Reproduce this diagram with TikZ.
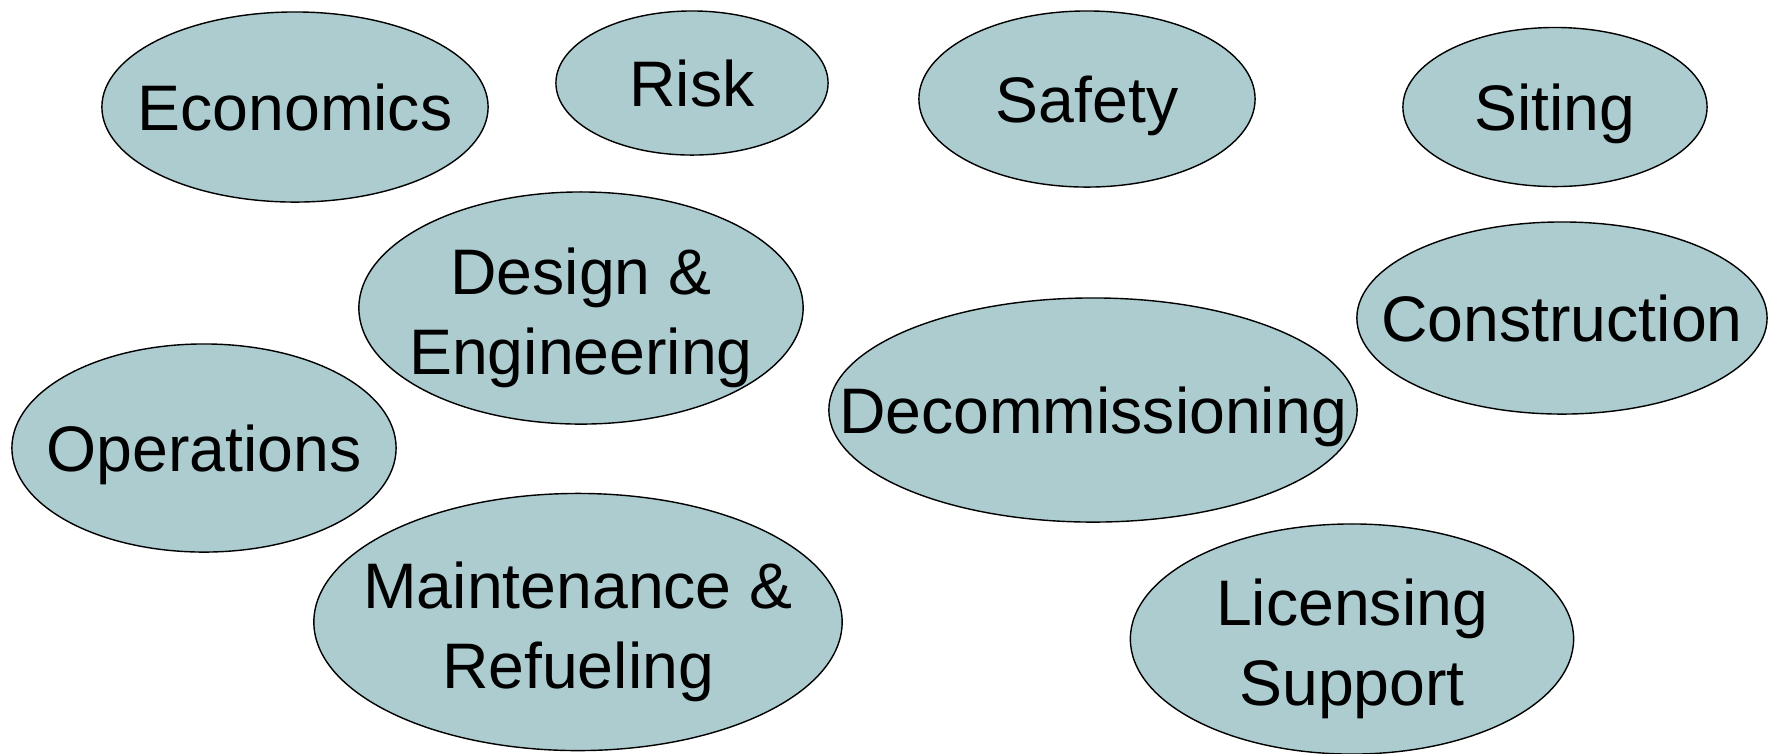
\documentclass[tikz,border=0pt]{standalone}
\usepackage{fontspec}
\setmainfont{Liberation Sans}
\usepackage{xcolor}
\definecolor{topicfill}{RGB}{173,204,207}
\usepackage{tikz}
\usetikzlibrary{shapes.geometric}

\begin{document}
\begin{tikzpicture}[
  x=0.01cm, y=-0.01cm,
  topic/.style={ellipse, draw=black, line width=0.4pt, fill=topicfill,
                inner sep=0pt},
  topictext/.style={inner sep=0pt, align=center, yshift=-0.07cm,
                    font=\fontsize{18.3}{22.8}\selectfont,
                    execute at begin node=\strut},
  topiclines/.style={topictext, yshift=-0.08cm},
]
\useasboundingbox (0,0) rectangle (1768,753);

%% --- top row ---
\node[topic, minimum width=3.86cm, minimum height=1.90cm,
      label={[topictext]center:Economics}] (econ) at (295, 107) {};
\node[topic, minimum width=2.72cm, minimum height=1.44cm,
      label={[topictext]center:Risk}] (risk) at (692, 83) {};
\node[topic, minimum width=3.36cm, minimum height=1.76cm,
      label={[topictext]center:Safety}] (safety) at (1087, 99) {};
\node[topic, minimum width=3.04cm, minimum height=1.59cm,
      label={[topictext]center:Siting}] (siting) at (1555, 107) {};

%% --- middle ---
\node[topic, minimum width=4.44cm, minimum height=2.32cm,
      label={[topiclines]center:Design \&\\Engineering}] (design) at (581, 308) {};
\node[topic, minimum width=4.10cm, minimum height=1.92cm,
      label={[topictext]center:Construction}] (constr) at (1562, 318) {};
\node[topic, minimum width=3.84cm, minimum height=2.08cm,
      label={[topictext]center:Operations}] (ops) at (204, 448) {};
\node[topic, minimum width=5.28cm, minimum height=2.24cm,
      label={[topictext]center:Decommissioning}] (decom) at (1093, 410) {};

%% --- bottom row ---
\node[topic, minimum width=5.28cm, minimum height=2.57cm,
      label={[topiclines]center:Maintenance \&\\Refueling}] (maint) at (578, 622) {};
\node[topic, minimum width=4.43cm, minimum height=2.30cm,
      label={[topiclines]center:Licensing\\Support}] (licens) at (1352, 639) {};
\end{tikzpicture}
\end{document}
